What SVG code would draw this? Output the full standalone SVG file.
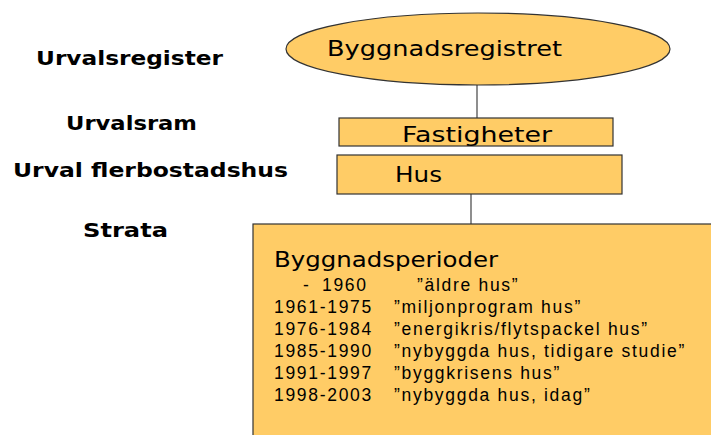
<svg xmlns="http://www.w3.org/2000/svg" width="711" height="435" viewBox="0 0 711 435">
<style>
.box{fill:#FFCC66;stroke:#333;stroke-width:1.2}
.conn{stroke:#444;stroke-width:1.2;fill:none}
.lbl{font-family:"DejaVu Sans","Noto Sans",sans-serif;font-weight:bold;font-size:20px;fill:#000}
.nt{font-family:"DejaVu Sans","Noto Sans",sans-serif;font-size:22px;fill:#000}
.row{font-family:"Liberation Sans",Arial,sans-serif;font-size:17.5px;fill:#000;letter-spacing:1.7px}
</style>
<rect width="711" height="435" fill="#fff"/>
<g id="labels">
<text class="lbl" x="36" y="65" textLength="187" lengthAdjust="spacingAndGlyphs">Urvalsregister</text>
<text class="lbl" x="66" y="130" textLength="131" lengthAdjust="spacingAndGlyphs">Urvalsram</text>
<text class="lbl" x="13" y="177" textLength="275" lengthAdjust="spacingAndGlyphs">Urval flerbostadshus</text>
<text class="lbl" x="83" y="237" textLength="85" lengthAdjust="spacingAndGlyphs">Strata</text>
</g>
<g id="connectors">
<line class="conn" x1="477" y1="85" x2="477" y2="118"/>
<line class="conn" x1="471" y1="194" x2="471" y2="224"/>
</g>
<g id="byggnadsregistret">
<ellipse class="box" cx="478" cy="49" rx="192" ry="36"/>
<text class="nt" x="327" y="56" font-size="24" textLength="235" lengthAdjust="spacingAndGlyphs">Byggnadsregistret</text>
</g>
<g id="fastigheter">
<rect class="box" x="339" y="118" width="274" height="28"/>
<text class="nt" x="402" y="142" textLength="150" lengthAdjust="spacingAndGlyphs">Fastigheter</text>
</g>
<g id="hus">
<rect class="box" x="337" y="155" width="285" height="39"/>
<text class="nt" x="395" y="182" font-size="24" textLength="47" lengthAdjust="spacingAndGlyphs">Hus</text>
</g>
<g id="strata">
<rect class="box" x="253" y="224" width="470" height="220"/>
<text class="nt" x="274" y="267" font-size="24" textLength="224" lengthAdjust="spacingAndGlyphs">Byggnadsperioder</text>
<text class="row" x="303" y="291">-</text>
<text class="row" x="322" y="291">1960</text>
<text class="row" x="417" y="291">”äldre hus”</text>
<text class="row" x="274" y="313">1961-1975</text>
<text class="row" x="394" y="313">”miljonprogram hus”</text>
<text class="row" x="274" y="335">1976-1984</text>
<text class="row" x="394" y="335">”energikris/flytspackel hus”</text>
<text class="row" x="274" y="357">1985-1990</text>
<text class="row" x="394" y="357">”nybyggda hus, tidigare studie”</text>
<text class="row" x="274" y="379">1991-1997</text>
<text class="row" x="394" y="379">”byggkrisens hus”</text>
<text class="row" x="274" y="401">1998-2003</text>
<text class="row" x="394" y="401">”nybyggda hus, idag”</text>
</g>
</svg>
